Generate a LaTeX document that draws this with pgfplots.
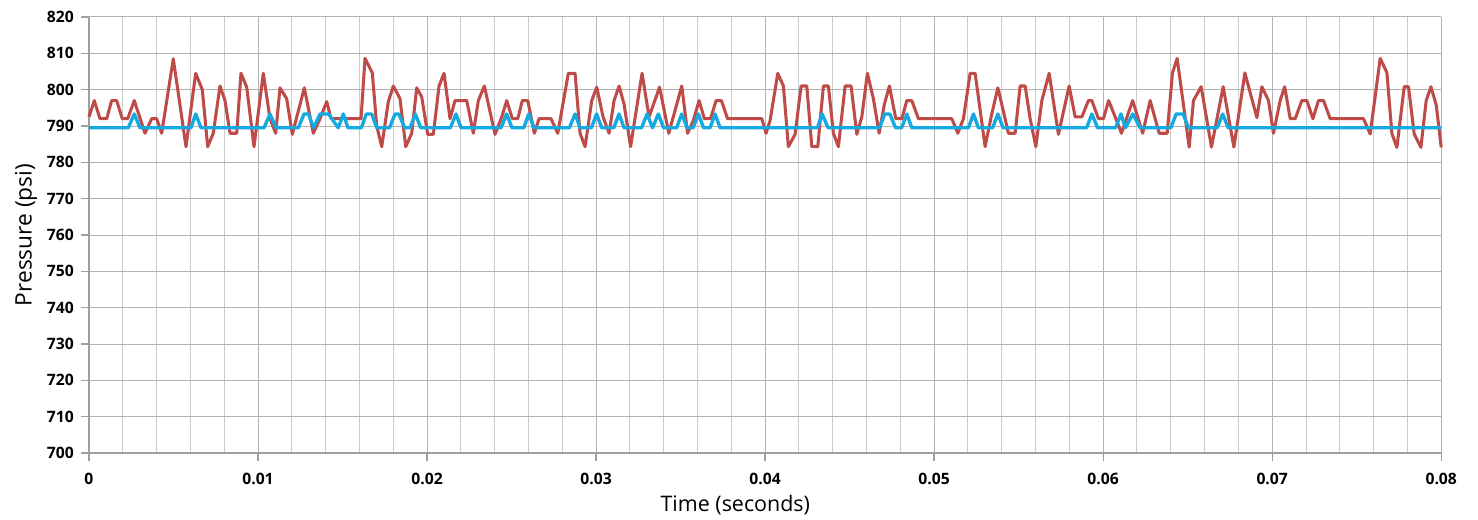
\documentclass[border=0pt]{standalone}
\usepackage{pgfplots}
\pgfplotsset{compat=1.18}
\usepackage{fontspec}
\setmainfont{Open Sans}
\definecolor{redline}{RGB}{190,75,72}
\definecolor{blueline}{RGB}{20,170,225}
\begin{document}
\begin{tikzpicture}
\begin{axis}[
  scale only axis,
  width=845pt, height=272.5pt,
  xmin=0, xmax=0.08, ymin=700, ymax=820,
  axis x line=bottom, axis y line=left,
  axis line style={-, draw=gray!75, line width=0.8pt},
  xtick={0,0.01,0.02,0.03,0.04,0.05,0.06,0.07,0.08},
  xticklabels={0,0.01,0.02,0.03,0.04,0.05,0.06,0.07,0.08},
  scaled x ticks=false,
  minor x tick num=4,
  ytick={700,710,...,820},
  grid=both,
  major grid style={draw=gray!60, line width=0.6pt},
  minor grid style={draw=gray!40, line width=0.6pt},
  tick style={draw=gray!75, line width=0.8pt},
  major tick length=5pt, minor tick length=0pt,
  tick align=outside,
  /pgf/number format/assume math mode=true,
  ticklabel style={font=\fontsize{9.8}{11}\selectfont\bfseries},
  xticklabel style={yshift=-4pt},
  yticklabel style={xshift=-1pt},
  xlabel={Time (seconds)}, ylabel={Pressure (psi)},
  every axis x label/.style={at={(axis description cs:0.478,-0.1193)},anchor=center,font=\fontsize{13.4}{16}\selectfont},
  every axis y label/.style={at={(axis description cs:-0.0465,0.5)},rotate=90,anchor=center,font=\fontsize{14.2}{17}\selectfont},
  clip=false,
]
\addplot[draw=redline, line width=1.9pt, line join=round] coordinates {
(0,792.5) (0.000314,797) (0.000651,792) (0.001047,792) (0.001343,797) (0.001639,797)
(0.001970,792) (0.002290,792) (0.002680,797) (0.003314,788) (0.003710,792) (0.004006,792)
(0.004302,788) (0.004988,808.5) (0.005740,784.3) (0.006314,804.5) (0.006704,800) (0.007024,784.3)
(0.007355,788) (0.007751,801) (0.008047,797) (0.008343,788) (0.008740,788) (0.008994,804.5)
(0.009331,800.7) (0.009763,784.3) (0.010314,804.5) (0.010710,792) (0.011047,788) (0.011302,800.5)
(0.011698,797.5) (0.012030,787.7) (0.012740,800.5) (0.013272,788) (0.013669,792) (0.014065,796.7)
(0.014320,792) (0.016095,792) (0.016331,808.6) (0.016763,804.6) (0.017024,790) (0.017320,784.3)
(0.017710,796.7) (0.018006,801) (0.018402,797.5) (0.018740,784.3) (0.019095,788) (0.019391,800.5)
(0.019686,798) (0.020041,787.7) (0.020373,787.7) (0.020710,801) (0.021006,804.5) (0.021361,792)
(0.021657,797) (0.022349,797) (0.022740,788) (0.023036,797) (0.023391,801) (0.024024,787.7)
(0.024420,792.5) (0.024716,797) (0.025047,792) (0.025367,792) (0.025639,797) (0.025959,797)
(0.026349,788) (0.026627,792) (0.027337,792) (0.027734,788) (0.028361,804.5) (0.028757,804.5)
(0.029053,788) (0.029349,784.3) (0.029746,797) (0.030041,800.7) (0.030414,792.5) (0.030769,788)
(0.031065,797) (0.031361,801) (0.031657,796) (0.032041,784.3) (0.032722,804.5) (0.033136,792.5)
(0.033757,800.7) (0.034302,788) (0.035071,801) (0.035414,788) (0.035757,791.5) (0.036095,797)
(0.036408,792) (0.036775,792) (0.037101,797) (0.037414,797) (0.037781,792) (0.039805,792)
(0.040059,788) (0.040296,791.5) (0.040751,804.5) (0.041083,801) (0.041379,784.3) (0.041775,787.7)
(0.042130,801) (0.042467,801) (0.042763,784.3) (0.043118,784.3) (0.043450,801) (0.043746,801)
(0.044041,788) (0.044337,784.3) (0.044734,801) (0.045089,801) (0.045426,787.7) (0.045722,792.5)
(0.046053,804.5) (0.046408,797.5) (0.046746,788) (0.047059,796) (0.047355,801) (0.047734,792)
(0.048089,792) (0.048385,797) (0.048680,797) (0.049071,792) (0.051047,792) (0.051402,788)
(0.051734,792) (0.052130,804.5) (0.052426,804.5) (0.053018,784.3) (0.053373,792.5) (0.053769,800.5)
(0.054101,794) (0.054396,788) (0.054793,788) (0.055089,801) (0.055385,801) (0.055680,792)
(0.056018,784.3) (0.056373,797) (0.056805,804.5) (0.057355,787.7) (0.057988,801) (0.058343,792.5)
(0.058740,792.5) (0.059130,797) (0.059331,797) (0.059722,792) (0.060018,792) (0.060325,797)
(0.060710,792.5) (0.061083,788) (0.061746,797) (0.062337,788) (0.062781,797) (0.063314,788)
(0.063787,788) (0.064101,804.6) (0.064379,808.6) (0.065089,784.2) (0.065343,797) (0.065799,800.8)
(0.066408,784.2) (0.067101,800.8) (0.067734,784.2) (0.068385,804.6) (0.069095,792.3) (0.069391,800.8)
(0.069781,797) (0.070077,788) (0.070473,797) (0.070740,800.8) (0.071065,792) (0.071361,792)
(0.071757,797) (0.072053,797) (0.072408,792) (0.072740,797) (0.073036,797) (0.073432,792)
(0.075402,792) (0.075799,787.8) (0.076391,808.6) (0.076787,804.7) (0.077083,787.9) (0.077379,784.1)
(0.077811,800.8) (0.078065,800.8) (0.078402,787.8) (0.078799,784.1) (0.079112,797) (0.079391,800.8)
(0.079704,795.8) (0.08,784.1)
};
\addplot[draw=blueline, line width=2.1pt, line join=round] coordinates {
(0,789.5) (0.002325,789.5) (0.002680,793.3) (0.003018,789.5)
(0.006036,789.5) (0.006314,793.3) (0.006627,789.5)
(0.010355,789.5) (0.010710,793.3) (0.011065,789.5)
(0.012385,789.5) (0.012722,793.3) (0.012988,793.3) (0.013284,789.5) (0.013669,793.3) (0.014172,793.3)
(0.014751,789.5) (0.015047,793.3) (0.015325,789.5)
(0.016112,789.5) (0.016408,793.3) (0.016728,793.3) (0.017024,789.5)
(0.017781,789.5) (0.018107,793.3) (0.018325,793.3) (0.018680,789.5)
(0.018994,789.5) (0.019308,793.3) (0.019627,789.5)
(0.021379,789.5) (0.021716,793.3) (0.022012,789.5)
(0.024379,789.5) (0.024704,793.3) (0.025030,789.5)
(0.025722,789.5) (0.026018,793.3) (0.026331,789.5)
(0.028420,789.5) (0.028757,793.3) (0.029053,789.5)
(0.029722,789.5) (0.030030,793.3) (0.030337,789.5)
(0.031047,789.5) (0.031361,793.3) (0.031657,789.5)
(0.032692,789.5) (0.033018,793.3) (0.033343,789.5) (0.033686,793.3) (0.033994,789.5)
(0.034763,789.5) (0.035071,793.3) (0.035385,789.5)
(0.035740,789.5) (0.036053,793.3) (0.036361,789.5)
(0.036746,789.5) (0.037041,793.3) (0.037337,789.5)
(0.043095,789.5) (0.043373,793.3) (0.043728,789.5)
(0.046763,789.5) (0.047083,793.3) (0.047379,793.3) (0.047722,789.5)
(0.048077,789.5) (0.048385,793.3) (0.048680,789.5)
(0.052030,789.5) (0.052325,793.3) (0.052621,789.5)
(0.053462,789.5) (0.053769,793.3) (0.054083,789.5)
(0.059024,789.5) (0.059331,793.3) (0.059675,789.5)
(0.060740,789.5) (0.061053,793.3) (0.061320,789.5) (0.061757,793.3) (0.062189,789.5)
(0.064006,789.5) (0.064320,793.3) (0.064734,793.3) (0.065047,789.5)
(0.066746,789.5) (0.067071,793.3) (0.067396,789.5)
(0.08,789.5)
};
\end{axis}
\pgfresetboundingbox
\path (current axis.south west) ++(-55.6pt,-41.3pt) rectangle ([shift={(23pt,10.6pt)}]current axis.north east);
\end{tikzpicture}
\end{document}
